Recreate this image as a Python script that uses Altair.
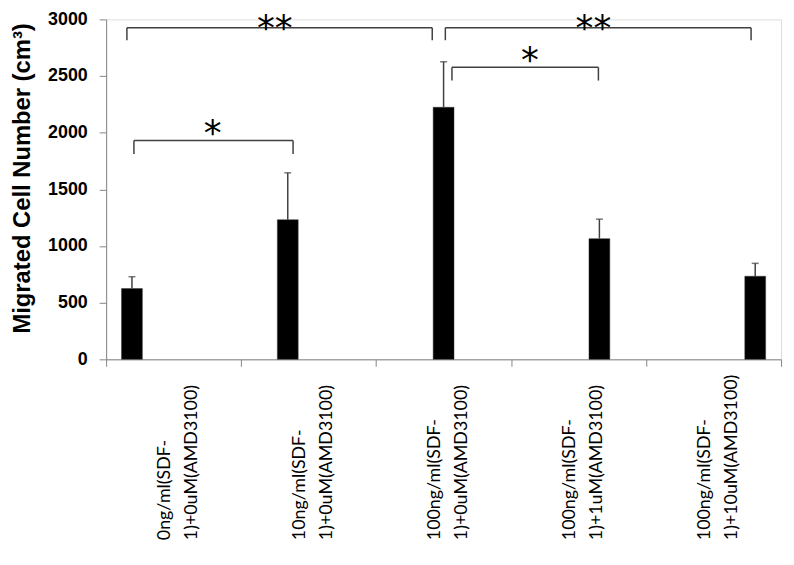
import altair as alt
import pandas as pd

# ---- data ----
categories = [
    "0ng/ml(SDF-|1)+0uM(AMD3100)",
    "10ng/ml(SDF-|1)+0uM(AMD3100)",
    "100ng/ml(SDF-|1)+0uM(AMD3100)",
    "100ng/ml(SDF-|1)+1uM(AMD3100)",
    "100ng/ml(SDF-|1)+10uM(AMD3100)",
]
series = [0, 1, 2, 3, 4]
values = [624, 1232, 2224, 1065, 733]
err_top = [729, 1646, 2626, 1237, 847]

# significance brackets (x in category units, y in data units)
br_x1 = [0.154, 0.206, 2.513, 2.562]
br_x2 = [2.416, 1.385, 4.778, 3.647]
br_y = [2927, 1932, 2927, 2577]
br_yb = [2816, 1812, 2816, 2460]
star_x = [1.25, 0.79, 3.61, 3.14]
star_y = [2985, 2057, 2985, 2700]
star_txt = ["**", "*", "**", "*"]

df = pd.DataFrame({"cat": categories, "s": series, "v": values, "e": err_top})
br = pd.DataFrame({"x1": br_x1, "x2": br_x2, "y": br_y, "yb": br_yb})
st = pd.DataFrame({"x": star_x, "y": star_y, "t": star_txt})

W, H = 681, 343
yscale = alt.Scale(domain=[0, 3000], nice=False)
xscale = alt.Scale(paddingInner=0, paddingOuter=0)
oscale = alt.Scale(paddingInner=0, paddingOuter=0.74)

xenc = alt.X("cat:N", sort=categories, scale=xscale, title=None,
             axis=alt.Axis(labelAngle=270, labelAlign="left", labelBaseline="middle",
                           labelPadding=175, labelExpr="split(datum.label, '|')",
                           labelFont="Lato", labelFontSize=18, labelColor="#000000",
                           labelLineHeight=27, labelOffset=-9, tickBand="extent", tickSize=7,
                           tickColor="#868686", domainColor="#868686", labelLimit=0))
yenc = alt.Y("v:Q", scale=yscale, title="Migrated Cell Number (cm³)",
             axis=alt.Axis(values=[0, 500, 1000, 1500, 2000, 2500, 3000], format="d",
                           grid=False,
                           tickSize=7, tickColor="#868686", domainColor="#868686",
                           labelFont="Liberation Sans", labelFontSize=18,
                           labelFontWeight="bold", labelColor="#000000", labelPadding=12,
                           titleFont="Liberation Sans", titleFontSize=24,
                           titleFontWeight="bold", titleColor="#000000",
                           titleAngle=270, titleBaseline="middle", titleAlign="center",
                           titleX=-84, titleY=160))
off = alt.XOffset("s:N", scale=oscale)

bars = alt.Chart(df).mark_bar(color="#000000", stroke="#333333", strokeWidth=0.5).encode(
    x=xenc, xOffset=off, y=yenc)
rules = alt.Chart(df).mark_rule(color="#404040", strokeWidth=1.5).encode(
    x=alt.X("cat:N", sort=categories), xOffset=off, y="v:Q", y2="e:Q")
caps = alt.Chart(df).mark_tick(color="#404040", thickness=1.5, size=7).encode(
    x=alt.X("cat:N", sort=categories), xOffset=off, y="e:Q")

main = alt.layer(bars, rules, caps)

bx = alt.Scale(domain=[0, 5], nice=False, zero=False)
hline = alt.Chart(br).mark_rule(color="#404040", strokeWidth=1.5).encode(
    x=alt.X("x1:Q", scale=bx, axis=None), x2="x2:Q", y=alt.Y("y:Q", scale=yscale))
v1 = alt.Chart(br).mark_rule(color="#404040", strokeWidth=1.5).encode(
    x=alt.X("x1:Q", scale=bx, axis=None), y=alt.Y("y:Q", scale=yscale), y2="yb:Q")
v2 = alt.Chart(br).mark_rule(color="#404040", strokeWidth=1.5).encode(
    x=alt.X("x2:Q", scale=bx, axis=None), y=alt.Y("y:Q", scale=yscale), y2="yb:Q")
stars = alt.Chart(st).mark_text(font="DejaVu Sans", fontSize=36, color="#000000",
                                baseline="middle", align="center", dy=8).encode(
    x=alt.X("x:Q", scale=bx, axis=None), y=alt.Y("y:Q", scale=yscale), text="t:N")

ann = alt.layer(hline, v1, v2, stars)

chart = alt.layer(main, ann).resolve_scale(x="independent").properties(
    width=W, height=H,
    autosize=alt.AutoSizeParams(type="none"),
    padding={"left": 99, "top": 9, "right": 5, "bottom": 200},
).configure_view(stroke=None).configure(background="white")

chart.save("out.html", embed_options={"renderer": "svg", "actions": False})
